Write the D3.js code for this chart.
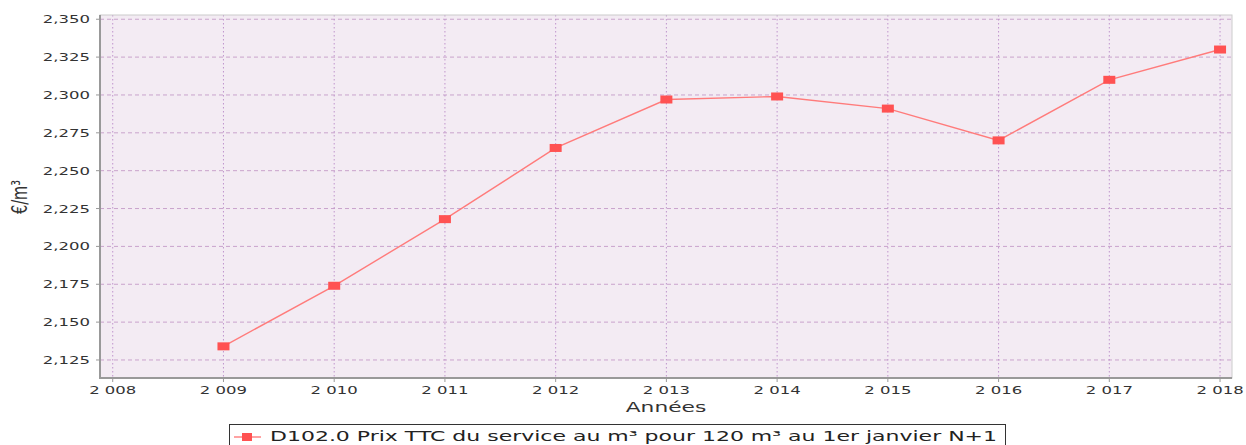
<!DOCTYPE html>
<html>
<head>
<meta charset="utf-8">
<script src="https://cdn.jsdelivr.net/npm/d3@7"></script>
<style>
  body { margin: 0; background: #fff; }
  svg { display: block; font-family: "DejaVu Sans", sans-serif; }
</style>
</head>
<body>
<svg id="chart" width="1246" height="445"></svg>
<script>
// data
const years = [2009, 2010, 2011, 2012, 2013, 2014, 2015, 2016, 2017, 2018];
const prices = [2.134, 2.174, 2.218, 2.265, 2.297, 2.299, 2.291, 2.270, 2.310, 2.330];
const yTicks = [2.125, 2.150, 2.175, 2.200, 2.225, 2.250, 2.275, 2.300, 2.325, 2.350];
const xTicks = [2008, 2009, 2010, 2011, 2012, 2013, 2014, 2015, 2016, 2017, 2018];
const seriesName = "D102.0 Prix TTC du service au m³ pour 120 m³ au 1er janvier N+1";

const plot = { left: 100, top: 15, right: 1232, bottom: 378 };
const stretch = 1.5; // the source image is stretched horizontally

const locale = d3.formatLocale({ decimal: ",", thousands: " ", grouping: [3], currency: ["", "€"] });
const fmtY = locale.format(".3f");
const fmtX = locale.format(",d");

const svg = d3.select("#chart");

const x = d3.scaleLinear().domain([2007.885, 2018.108]).range([plot.left, plot.right]);
const y = d3.scaleLinear().domain([2.1131, 2.3528]).range([plot.bottom, plot.top]);

// plot background
svg.append("rect")
  .attr("x", plot.left).attr("y", plot.top)
  .attr("width", plot.right - plot.left).attr("height", plot.bottom - plot.top)
  .attr("fill", "#f3ebf3");

// horizontal grid (dashed)
svg.append("g").selectAll("line").data(yTicks).join("line")
  .attr("x1", plot.left).attr("x2", plot.right)
  .attr("y1", d => y(d)).attr("y2", d => y(d))
  .attr("stroke", "#c9a3cc").attr("stroke-width", 1)
  .attr("stroke-dasharray", "4,3");

// vertical grid (dotted)
svg.append("g").selectAll("line").data(xTicks).join("line")
  .attr("x1", d => x(d)).attr("x2", d => x(d))
  .attr("y1", plot.top).attr("y2", plot.bottom)
  .attr("stroke", "#bf94cc").attr("stroke-width", 1)
  .attr("stroke-dasharray", "1.5,2.5");

// frame: light top/right, darker axes
svg.append("rect")
  .attr("x", plot.left).attr("y", plot.top)
  .attr("width", plot.right - plot.left).attr("height", plot.bottom - plot.top)
  .attr("fill", "none").attr("stroke", "#cccccc");
svg.append("line")
  .attr("x1", plot.left).attr("x2", plot.left)
  .attr("y1", plot.top).attr("y2", plot.bottom + 1)
  .attr("stroke", "#999").attr("stroke-width", 2);
svg.append("line")
  .attr("x1", plot.left - 1).attr("x2", plot.right)
  .attr("y1", plot.bottom).attr("y2", plot.bottom)
  .attr("stroke", "#999").attr("stroke-width", 2);

// y ticks and labels
const gy = svg.append("g");
gy.selectAll("line").data(yTicks).join("line")
  .attr("x1", plot.left - 4).attr("x2", plot.left)
  .attr("y1", d => y(d)).attr("y2", d => y(d))
  .attr("stroke", "#999");
gy.selectAll("text").data(yTicks).join("text")
  .attr("transform", d => `translate(${plot.left - 10},${y(d) + 4}) scale(${stretch},1)`)
  .attr("text-anchor", "end")
  .attr("font-size", 11)
  .attr("fill", "#333")
  .text(d => fmtY(d));

// x ticks and labels
const gx = svg.append("g");
gx.selectAll("line").data(xTicks).join("line")
  .attr("x1", d => x(d)).attr("x2", d => x(d))
  .attr("y1", plot.bottom).attr("y2", plot.bottom + 4)
  .attr("stroke", "#999");
gx.selectAll("text").data(xTicks).join("text")
  .attr("transform", d => `translate(${x(d)},${plot.bottom + 16}) scale(${stretch},1)`)
  .attr("text-anchor", "middle")
  .attr("font-size", 11)
  .attr("fill", "#333")
  .text(d => fmtX(d));

// axis titles
svg.append("text")
  .attr("transform", `translate(${(plot.left + plot.right) / 2},412) scale(${stretch},1)`)
  .attr("text-anchor", "middle")
  .attr("font-size", 14.5)
  .attr("fill", "#333")
  .text("Années");
svg.append("text")
  .attr("transform", `translate(27,197) scale(${stretch},1) rotate(-90)`)
  .attr("text-anchor", "middle")
  .attr("font-size", 14.5)
  .attr("fill", "#333")
  .text("€/m³");

// series line
const pts = years.map((yr, i) => [yr, prices[i]]);
svg.append("path")
  .datum(pts)
  .attr("fill", "none")
  .attr("stroke", "#ff7b7b")
  .attr("stroke-width", 1.4)
  .attr("d", d3.line().x(d => x(d[0])).y(d => y(d[1])));

// markers
svg.append("g").selectAll("rect").data(pts).join("rect")
  .attr("x", d => x(d[0]) - 6).attr("y", d => y(d[1]) - 4)
  .attr("width", 12).attr("height", 8)
  .attr("fill", "#ff5252");

// legend
const lg = svg.append("g");
lg.append("rect")
  .attr("x", 229.5).attr("y", 424.5)
  .attr("width", 776).attr("height", 30)
  .attr("fill", "#fff").attr("stroke", "#333");
lg.append("line")
  .attr("x1", 234).attr("x2", 261).attr("y1", 437).attr("y2", 437)
  .attr("stroke", "#ff7b7b").attr("stroke-width", 1.4);
lg.append("rect")
  .attr("x", 242).attr("y", 433).attr("width", 10).attr("height", 8)
  .attr("fill", "#ff5252");
lg.append("text")
  .attr("x", 270).attr("y", 441)
  .attr("font-size", 14.5)
  .attr("fill", "#222")
  .attr("textLength", 727)
  .attr("lengthAdjust", "spacingAndGlyphs")
  .text(seriesName);
</script>
</body>
</html>
